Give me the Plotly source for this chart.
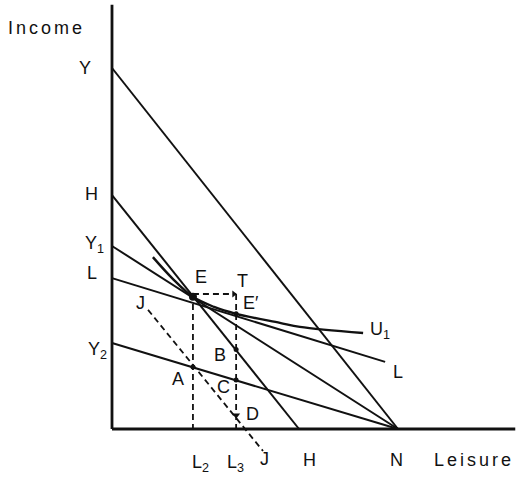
import plotly.graph_objects as go

# ---- data (chart units) ----
axis_top = 11.75
axis_right = 14.1

# budget / constraint lines: (x0, y0) -> (x1, y1)
line_YN_x = [0, 10.0];   line_YN_y = [10.0, 0]
line_HH_x = [0, 6.54];   line_HH_y = [6.48, 0]
line_Y1N_x = [0, 10.0];  line_Y1N_y = [5.07, 0]
line_LL_x = [0, 9.55];   line_LL_y = [4.18, 1.86]
line_Y2N_x = [0, 10.0];  line_Y2N_y = [2.38, 0]
line_JJ_x = [1.26, 5.28]; line_JJ_y = [3.30, -0.61]

# indifference curve U1
u1_x = [1.43, 2.10, 2.83, 3.57, 4.34, 5.87, 6.57, 8.78]
u1_y = [4.76, 4.18, 3.66, 3.38, 3.19, 2.94, 2.83, 2.66]

# key points
E = (2.83, 3.66)
E2 = (4.34, 3.19)
T = (4.34, 3.74)
B = (4.34, 2.20)
C = (4.34, 1.36)
A = (2.83, 1.72)
D = (4.34, 0.33)
L2 = 2.83
L3 = 4.34

# ---- figure ----
PXX = 28.6   # px per x unit
PXY = 36.1   # px per y unit
fig = go.Figure()

BLACK = "#111111"

def seg(x, y, width=2.0, dash="solid", shape="linear"):
    fig.add_trace(go.Scatter(x=x, y=y, mode="lines",
                             line=dict(color=BLACK, width=width, dash=dash, shape=shape),
                             hoverinfo="skip", showlegend=False))

# axes
seg([0, 0], [0, axis_top], width=2.8)
seg([0, axis_right], [0, 0], width=2.8)

# solid lines
seg(line_YN_x, line_YN_y)
seg(line_HH_x, line_HH_y)
seg(line_Y1N_x, line_Y1N_y)
seg(line_LL_x, line_LL_y)
seg(line_Y2N_x, line_Y2N_y)
seg(u1_x, u1_y, width=2.4, shape="spline")

# dashed lines
DASH = "6px,4px"
seg(line_JJ_x, line_JJ_y, width=1.8, dash=DASH)
seg([E[0], E[0]], [T[1], 0], width=1.8, dash=DASH)
seg([E[0], T[0]], [T[1], T[1]], width=1.8, dash=DASH)
seg([T[0], T[0]], [T[1], 0], width=1.8, dash=DASH)

# points
fig.add_trace(go.Scatter(x=[E[0]], y=[E[1]], mode="markers",
                         marker=dict(color=BLACK, size=8), hoverinfo="skip", showlegend=False))
fig.add_trace(go.Scatter(x=[E2[0], B[0], C[0], A[0]], y=[E2[1], B[1], C[1], A[1]], mode="markers",
                         marker=dict(color=BLACK, size=5), hoverinfo="skip", showlegend=False))
fig.add_trace(go.Scatter(x=[D[0]], y=[D[1] + 0.05], mode="markers",
                         marker=dict(color=BLACK, size=7, symbol="triangle-down"),
                         hoverinfo="skip", showlegend=False))
fig.add_trace(go.Scatter(x=[T[0] - 0.08], y=[T[1]], mode="markers",
                         marker=dict(color=BLACK, size=6, symbol="triangle-right"),
                         hoverinfo="skip", showlegend=False))

FONT = dict(family="Liberation Sans, Arial, sans-serif", size=18, color=BLACK)

def lab(text, x, y, dx, dy, size=18):
    fig.add_annotation(x=x, y=y, xref="x", yref="y", text=text, showarrow=False,
                       xshift=dx, yshift=dy, font=dict(FONT, size=size),
                       xanchor="center", yanchor="middle")

sp = lambda t: f'<span style="letter-spacing:3px">{t}</span>'

lab(sp("Income"), 0, axis_top, -66, -23)
lab(sp("Leisure"), axis_right, 0, -41, -31)

# vertical-axis labels
lab("Y", 0, line_YN_y[0], -27, 0)
lab("H", 0, line_HH_y[0], -21, 1)
lab("Y<sub>1</sub>", 0, line_Y1N_y[0], -18, 1)
lab("L", 0, line_LL_y[0], -20, 5)
lab("Y<sub>2</sub>", 0, line_Y2N_y[0], -15, -7)
lab("J", line_JJ_x[0], line_JJ_y[0], -8, 7)

# point labels
lab("E", E[0], E[1], 8, 20)
lab("T", T[0], T[1], 6, 13)
lab("E\u2032", E2[0], E2[1], 15, 11)
lab("B", B[0], B[1], -16, -5)
lab("A", A[0], A[1], -15, -12)
lab("C", C[0], C[1], -13, -7)
lab("D", D[0], D[1], 16, 3)
lab("U<sub>1</sub>", u1_x[-1], u1_y[-1], 17, 2)
lab("L", line_LL_x[1], line_LL_y[1], 13, -10)

# horizontal-axis labels
lab("L<sub>2</sub>", L2, 0, 8, -34)
lab("L<sub>3</sub>", L3, 0, -1, -34)
lab("J", line_JJ_x[1], line_JJ_y[1], 1, -8)
lab("H", line_HH_x[1], 0, 10, -31)
lab("N", line_YN_x[1], 0, -2, -31)

fig.update_layout(
    width=518, height=477, autosize=False,
    margin=dict(l=0, r=0, t=0, b=0),
    paper_bgcolor="white", plot_bgcolor="white",
    xaxis=dict(range=[-112 / PXX, 406 / PXX], visible=False, fixedrange=True),
    yaxis=dict(range=[-48 / PXY, 429 / PXY], visible=False, fixedrange=True),
    showlegend=False,
)

fig.write_html(
    "out.html",
    config={"displayModeBar": False},
    post_script="document.body.style.margin='0';document.body.style.overflow='hidden';",
)
